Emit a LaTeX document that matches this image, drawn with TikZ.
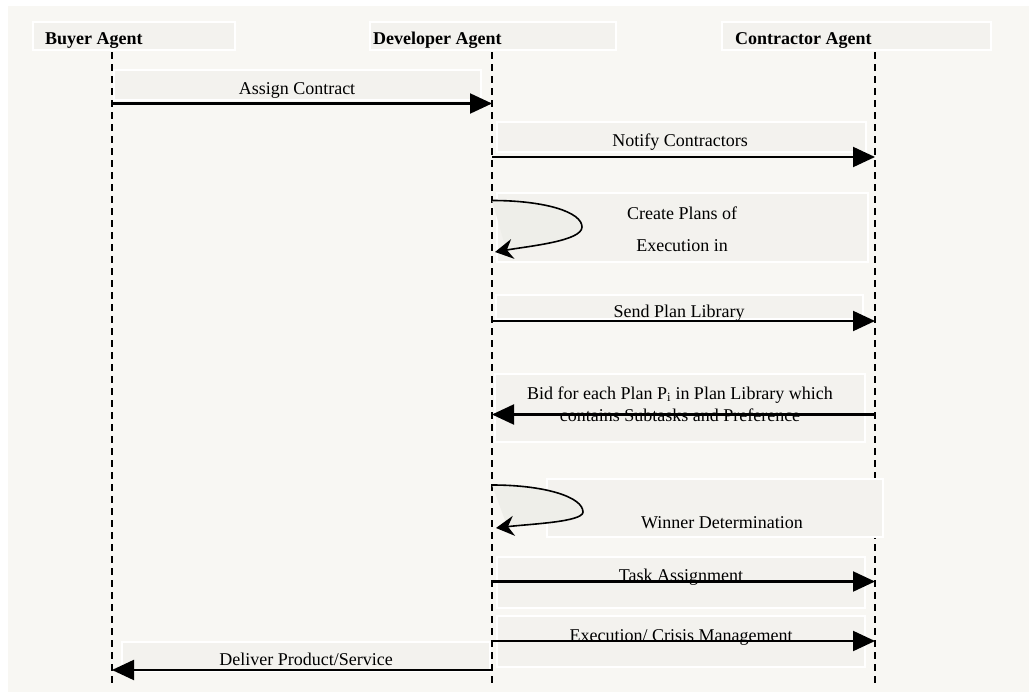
\documentclass[tikz,border=0pt]{standalone}
\usepackage{fontspec}
\setmainfont{Liberation Serif}
\usetikzlibrary{arrows.meta}
\definecolor{paper}{HTML}{F8F7F3}
\definecolor{boxfill}{HTML}{F3F2EE}
\definecolor{loopfill}{HTML}{EEEEE9}

\begin{document}
\begin{tikzpicture}[x=1pt,y=-1pt]
	\tikzset{every node/.style={font=\fontsize{18}{22}\selectfont, inner sep=0pt, anchor=base}}
	\tikzset{agent/.style={anchor=base west, font=\fontsize{18}{22}\selectfont\bfseries}}
	\tikzset{lifeline/.style={line width=1.4pt, dash pattern=on 7pt off 5pt}}
	\tikzset{msgbox/.style={fill=boxfill, draw=white, line width=1.5pt}}
	\tikzset{msg/.style={line width=2.1pt, -{Triangle[length=22pt,width=20pt]}}}
	\tikzset{selfmsg/.style={line width=1.6pt, fill=loopfill, -{Stealth[length=18pt,width=20pt,inset=6pt]}}}

	\useasboundingbox (0,0) rectangle (1029,696);
	\fill[paper] (8,6) rectangle (1029,692);

	% agents
	\draw[msgbox] (33,22) rectangle (235,50);
	\draw[msgbox] (370,22) rectangle (616,50);
	\draw[msgbox] (722,22) rectangle (991,50);
	\node[agent] (buyer) at (45,45) {Buyer Agent};
	\node[agent] (dev) at (373,45) {Developer Agent};
	\node[agent] (contr) at (735,45) {Contractor Agent};

	\coordinate (buyer top) at (112,52);
	\coordinate (buyer end) at (112,684);
	\coordinate (dev top) at (492,52);
	\coordinate (dev end) at (492,684);
	\coordinate (contr top) at (875,52);
	\coordinate (contr end) at (875,684);

	\draw[lifeline] (buyer top) -- (buyer end);
	\draw[lifeline] (dev top) -- (dev end);
	\draw[lifeline] (contr top) -- (contr end);

	% message boxes
	\draw[msgbox] (114,70) rectangle (481,100);
	\draw[msgbox] (497,122) rectangle (866,152);
	\draw[msgbox] (497,193) rectangle (868,262);
	\draw[msgbox] (496,295) rectangle (863,319);
	\draw[msgbox] (495,374) rectangle (865,442);
	\draw[msgbox] (547,479) rectangle (883,537);
	\draw[msgbox] (497,557) rectangle (865,608);
	\draw[msgbox] (497,616) rectangle (865,667);
	\draw[msgbox] (122,642) rectangle (490,671);

	% labels
	\node (assign) at (297,94) {Assign Contract};
	\node (notify) at (680,146) {Notify Contractors};
	\node (create1) at (682,219) {Create Plans of};
	\node (create2) at (682,251.5) {Execution in};
	\node (send) at (679,317) {Send Plan Library};
	\node (bid1) at (680,399) {Bid for each Plan P\textsubscript{i} in Plan Library which};
	\node (bid2) at (680,421) {contains Subtasks and Preference};
	\node (winner) at (722,528) {Winner Determination};
	\node (task) at (681,581.5) {Task Assignment};
	\node (exec) at (681,641) {Execution/ Crisis Management};
	\node (deliver) at (306,665.5) {Deliver Product/Service};

	% message rows
	\coordinate (m1) at (0,103.5);
	\coordinate (m2) at (0,157);
	\coordinate (m3) at (0,321);
	\coordinate (m4) at (0,414.5);
	\coordinate (m5) at (0,581.5);
	\coordinate (m6) at (0,641);
	\coordinate (m7) at (0,670);

	\draw[msg] (buyer top |- m1) -- (dev top |- m1);
	\draw[msg] (dev top |- m2) -- (contr top |- m2);
	\draw[msg] (dev top |- m3) -- (contr top |- m3);
	\draw[msg] (contr top |- m4) -- (dev top |- m4);
	\draw[msg] (dev top |- m5) -- (contr top |- m5);
	\draw[msg] (dev top |- m6) -- (contr top |- m6);
	\draw[msg] (dev top |- m7) -- (buyer top |- m7);

	% self messages
	\draw[selfmsg] (492,200.5) .. controls (545,200.5) and (582,212) .. (582,227)
		.. controls (582,241) and (530,246) .. (495,252);
	\draw[selfmsg] (492,485) .. controls (545,485) and (583,497) .. (583,512)
		.. controls (583,522) and (530,524) .. (496,528);
\end{tikzpicture}
\end{document}
